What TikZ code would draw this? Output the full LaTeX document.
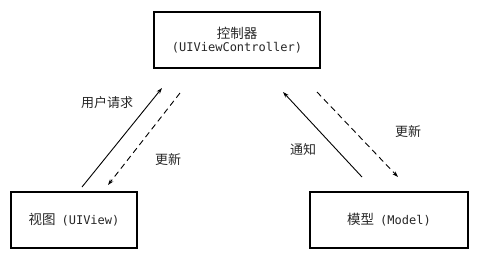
\documentclass[tikz,border=0pt]{standalone}
\usepackage{fontspec}
\setmonofont{DejaVu Sans Mono}
\newfontfamily\cjk{Noto Sans CJK SC}
\usetikzlibrary{arrows.meta}
\begin{document}
\begin{tikzpicture}[x=1pt,y=-1pt,
  box/.style={draw, line width=1.2pt, inner sep=0pt},
  lbl/.style={font=\cjk\fontsize{13}{15}\selectfont, inner sep=0pt, text=black!85},
  arr/.style={line width=0.9pt, -{Stealth[length=6pt,width=4pt]}},
  darr/.style={arr, dash pattern=on 6pt off 4pt}]
\useasboundingbox (0,0) rectangle (478,263);
\node[box, minimum width=166pt, minimum height=56pt, align=center, text=black!85] (ctrl) at (237,40)
  {{\cjk\fontsize{13.5}{15}\selectfont 控制器}\\[1pt]{\ttfamily\fontsize{12}{14}\selectfont (UIViewController)}};
\node[box, minimum width=126pt, minimum height=56pt, text=black!85] (view) at (74,220)
  {{\cjk\fontsize{13.5}{15}\selectfont 视图}\hspace{6pt}{\ttfamily\fontsize{12}{14}\selectfont (UIView)}};
\node[box, minimum width=158pt, minimum height=56pt, text=black!85] (model) at (389,220)
  {{\cjk\fontsize{13.5}{15}\selectfont 模型}\hspace{6pt}{\ttfamily\fontsize{12}{14}\selectfont (Model)}};
\coordinate (a1) at (82,187); \coordinate (a2) at (162,88);
\coordinate (b1) at (180,93); \coordinate (b2) at (108,185);
\coordinate (c1) at (362,177); \coordinate (c2) at (283,92);
\coordinate (d1) at (317,92); \coordinate (d2) at (398,177);
\draw[arr] (a1) -- (a2);
\draw[darr] (b1) -- (b2);
\draw[arr] (c1) -- (c2);
\draw[darr] (d1) -- (d2);
\node[lbl] (l1) at (107,103) {用户请求};
\node[lbl] (l2) at (168,160) {更新};
\node[lbl] (l3) at (303,150) {通知};
\node[lbl] (l4) at (408,132) {更新};
\end{tikzpicture}
\end{document}
